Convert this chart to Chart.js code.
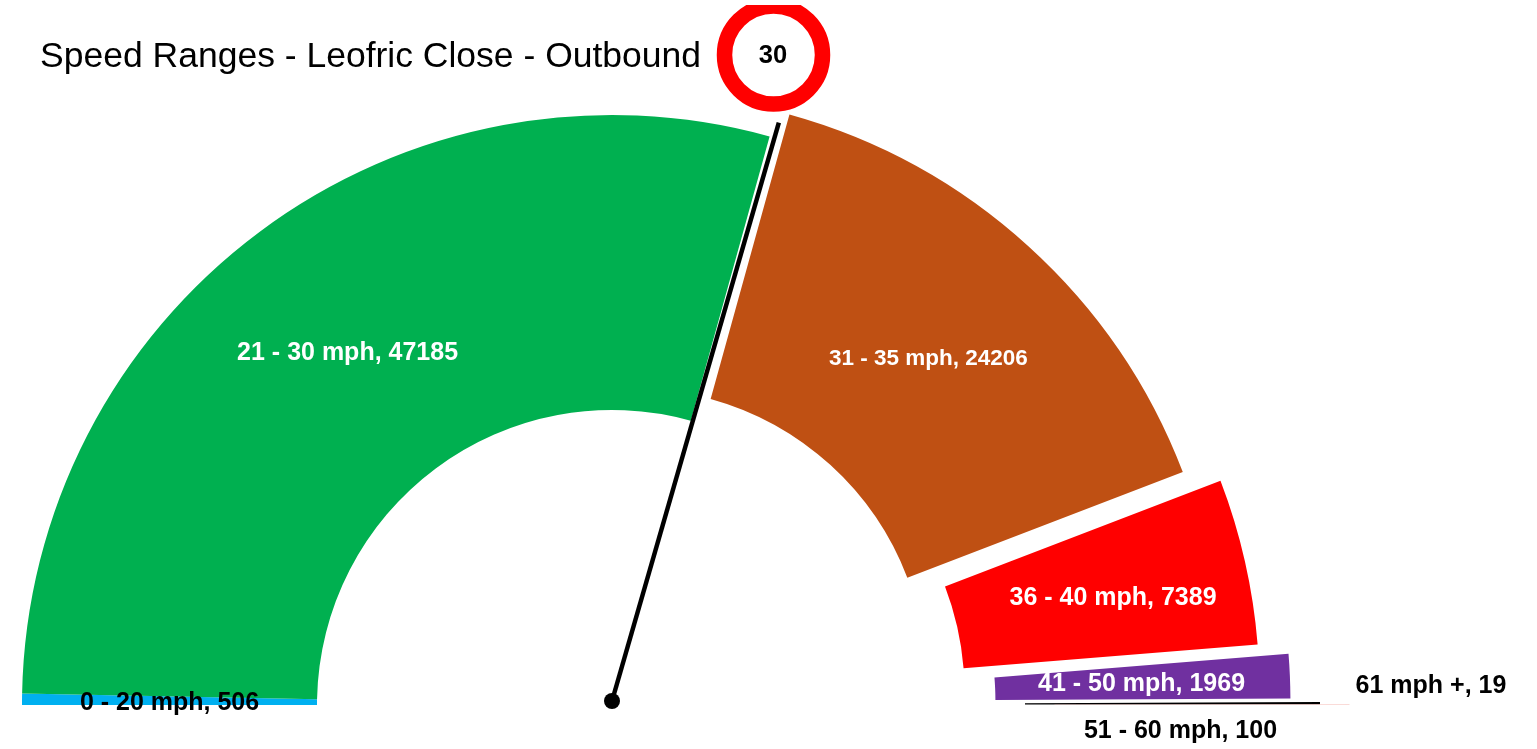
<!DOCTYPE html>
<html>
<head>
<meta charset="utf-8">
<title>Speed Ranges - Leofric Close - Outbound</title>
<script src="https://cdn.jsdelivr.net/npm/chart.js@4"></script>
<style>
    html, body { margin: 0; padding: 0; background: #fff; overflow: hidden; }
    #wrap { position: relative; width: 1537px; height: 749px; }
</style>
</head>
<body>
<div id="wrap"><canvas id="gauge"></canvas></div>
<script>
// 数据
const speedRanges = ['0 - 20 mph', '21 - 30 mph', '31 - 35 mph', '36 - 40 mph', '41 - 50 mph', '51 - 60 mph', '61 mph +'];
const vehicleCounts = [506, 47185, 24206, 7389, 1969, 100, 19];
const sliceColors = ['#00B0F0', '#00B050', '#BF5013', '#FF0000', '#7030A0', '#000000', '#F4B6B0'];
const explodeFractions = [0, 0, 0.05, 0.10, 0.15, 0.20, 0.25];

// 标签样式
const labelColors = ['#000', '#fff', '#fff', '#fff', '#fff', '#000', '#000'];
const labelSizes = [25, 25, 22.5, 25, 25, 25, 25];
const labelNudges = [[0, 2], [0, 3], [-1, 3], [12, 4], [-1, 2], [8, 28], [229, -19]];

const speedLimit = '30';
const FONT = '"Liberation Sans", Arial, sans-serif';

/**
 * 扇区分离：按半径比例沿扇区中线移动
 */
const explodePlugin = {
    id: 'explode',
    afterDatasetUpdate(chart, args) {
        args.meta.data.forEach((arc, i) => {
            const mid = (arc.startAngle + arc.endAngle) / 2;
            const shift = explodeFractions[i] * arc.outerRadius;
            arc.x += Math.cos(mid) * shift;
            arc.y += Math.sin(mid) * shift;
        });
    }
};

/**
 * 指针、限速标志和扇区标签
 */
const gaugePlugin = {
    id: 'gauge',
    afterDatasetsDraw(chart) {
        const ctx = chart.ctx;
        const arcs = chart.getDatasetMeta(0).data;
        const cx = arcs[0].x;
        const cy = arcs[0].y;

        // 指针
        const hubY = cy - 4;
        const needleAngle = -90 + 16.09;
        const needleLen = 602;
        const rad = needleAngle * Math.PI / 180;
        ctx.save();
        ctx.strokeStyle = '#000';
        ctx.lineWidth = 4.5;
        ctx.beginPath();
        ctx.moveTo(cx, hubY);
        ctx.lineTo(cx + Math.cos(rad) * needleLen, hubY + Math.sin(rad) * needleLen);
        ctx.stroke();
        ctx.fillStyle = '#000';
        ctx.beginPath();
        ctx.arc(cx, hubY, 8, 0, Math.PI * 2);
        ctx.fill();

        // 限速标志（顶部被裁切）
        ctx.save();
        ctx.beginPath();
        ctx.rect(700, 5, 150, 120);
        ctx.clip();
        ctx.strokeStyle = '#FF0000';
        ctx.lineWidth = 15.5;
        ctx.beginPath();
        ctx.arc(773.5, 55, 49, 0, Math.PI * 2);
        ctx.stroke();
        ctx.restore();
        ctx.fillStyle = '#000';
        ctx.font = 'bold 25.5px ' + FONT;
        ctx.textAlign = 'center';
        ctx.textBaseline = 'middle';
        ctx.fillText(speedLimit, 773, 56);

        // 标签
        arcs.forEach((arc, i) => {
            const mid = (arc.startAngle + arc.endAngle) / 2;
            const r = (arc.innerRadius + arc.outerRadius) / 2;
            const x = arc.x + Math.cos(mid) * r + labelNudges[i][0];
            const y = arc.y + Math.sin(mid) * r + labelNudges[i][1];
            ctx.fillStyle = labelColors[i];
            ctx.font = 'bold ' + labelSizes[i] + 'px ' + FONT;
            ctx.fillText(speedRanges[i] + ', ' + vehicleCounts[i], x, y);
        });
        ctx.restore();
    }
};

/**
 * 创建图表
 */
function createGauge() {
    const canvas = document.getElementById('gauge');
    return new Chart(canvas, {
        type: 'doughnut',
        data: {
            labels: speedRanges,
            datasets: [{
                data: vehicleCounts,
                backgroundColor: sliceColors,
                borderWidth: 0
            }]
        },
        options: {
            responsive: true,
            maintainAspectRatio: false,
            animation: false,
            rotation: -90,
            circumference: 180,
            cutout: '50%',
            radius: 590,
            layout: {
                padding: { left: 40, right: 353, top: 0, bottom: 44 }
            },
            plugins: {
                legend: { display: false },
                tooltip: { enabled: false },
                title: {
                    display: true,
                    text: 'Speed Ranges - Leofric Close - Outbound',
                    align: 'start',
                    color: '#000',
                    font: { family: FONT, size: 35.5, weight: 'normal', lineHeight: 1.2 },
                    padding: { top: 36, bottom: 36.4 }
                }
            }
        },
        plugins: [explodePlugin, gaugePlugin]
    });
}

document.addEventListener('DOMContentLoaded', createGauge);
</script>
</body>
</html>
